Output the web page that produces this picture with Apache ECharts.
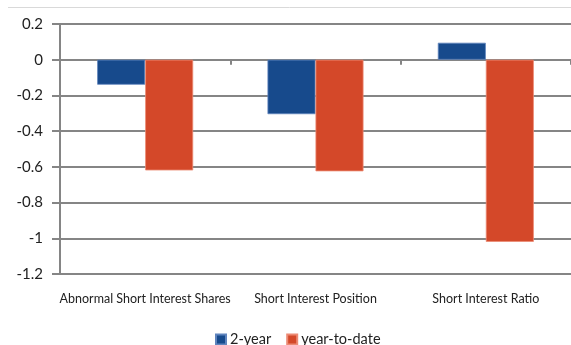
<!DOCTYPE html>
<html>
<head>
<meta charset="utf-8">
<style>
  html, body { margin: 0; padding: 0; background: #fff; }
  #chart { width: 571px; height: 345px; }
</style>
<script src="https://cdn.jsdelivr.net/npm/echarts@6/dist/echarts.min.js"></script>
</head>
<body>
<div id="chart"></div>
<script>
// Short-interest measures: change over 2 years vs. year-to-date
const categories = ['Abnormal Short Interest Shares', 'Short Interest Position', 'Short Interest Ratio'];
const twoYear = [-0.14, -0.305, 0.095];
const yearToDate = [-0.62, -0.625, -1.02];
const seriesNames = ['2-year', 'year-to-date'];

const FONT = 'Lato, "Open Sans", sans-serif';
const GRID_GRAY = '#858585';

const chart = echarts.init(document.getElementById('chart'), null, { renderer: 'canvas' });

chart.setOption({
  animation: false,
  backgroundColor: '#ffffff',
  graphic: [{
    type: 'line',
    shape: { x1: 8, y1: 7.5, x2: 571, y2: 7.5 },
    style: { stroke: '#d9d9d9', lineWidth: 1 }
  }],
  grid: { left: 60, top: 24, width: 516, height: 250, containLabel: false },
  legend: {
    data: seriesNames,
    left: 215,
    top: 332,
    padding: 0,
    itemWidth: 10,
    itemHeight: 10,
    itemGap: 15,
    icon: 'rect',
    textStyle: { fontFamily: FONT, fontSize: 14.5, color: '#222', padding: [0, 0, 0, -1] }
  },
  xAxis: [
    {
      type: 'category',
      data: categories,
      position: 'bottom',
      axisLine: { show: false, onZero: false },
      axisTick: { show: false },
      axisLabel: { fontFamily: FONT, fontSize: 12.5, color: '#222', margin: 18, interval: 0 }
    },
    {
      type: 'category',
      data: categories,
      position: 'top',
      axisLine: { show: true, onZero: true, lineStyle: { color: GRID_GRAY, width: 2 } },
      axisTick: { show: true, inside: true, interval: 0, length: 5, lineStyle: { color: GRID_GRAY, width: 2 } },
      axisLabel: { show: false }
    }
  ],
  yAxis: {
    type: 'value',
    min: -1.2,
    max: 0.2,
    interval: 0.2,
    axisLine: { show: true, lineStyle: { color: GRID_GRAY, width: 2 } },
    axisTick: { show: true, length: 8, lineStyle: { color: GRID_GRAY, width: 2 } },
    splitLine: { show: true, lineStyle: { color: GRID_GRAY, width: 2 } },
    axisLabel: { fontFamily: FONT, fontSize: 15, color: '#222', margin: 17 }
  },
  series: [
    {
      name: seriesNames[0],
      type: 'bar',
      xAxisIndex: 0,
      data: twoYear,
      barWidth: 48,
      barGap: '0%',
      itemStyle: { color: '#174a8c', borderColor: '#5f84bd', borderWidth: 0.8 }
    },
    {
      name: seriesNames[1],
      type: 'bar',
      xAxisIndex: 0,
      data: yearToDate,
      barWidth: 48,
      barGap: '0%',
      itemStyle: { color: '#d44829', borderColor: '#ec8a74', borderWidth: 0.8 }
    }
  ]
});
</script>
</body>
</html>
